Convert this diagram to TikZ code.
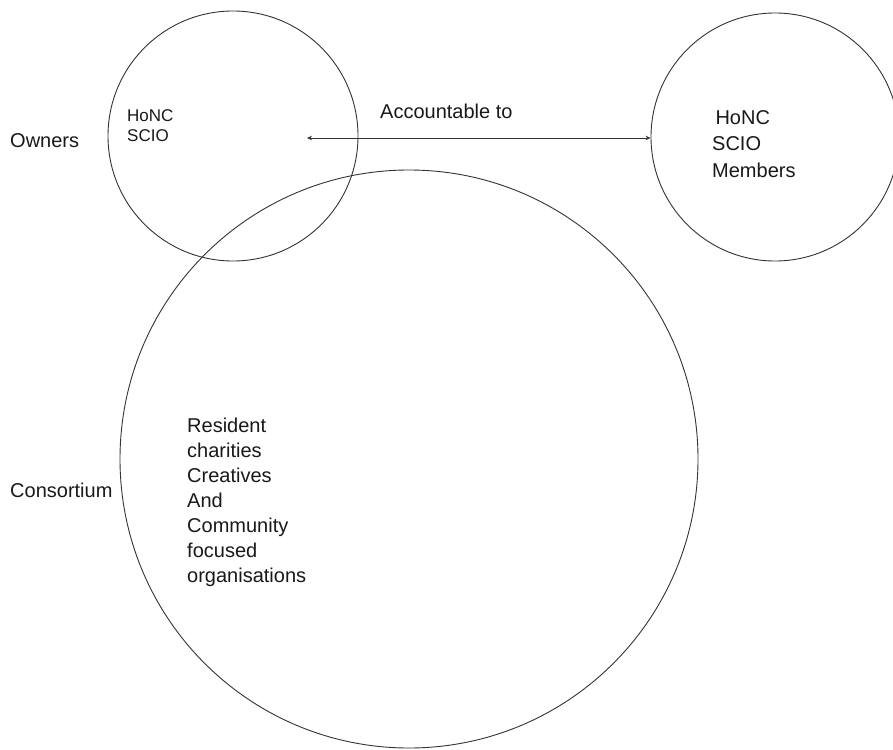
\documentclass[tikz,border=0pt]{standalone}
\usepackage{fontspec}
\setmainfont{Liberation Sans}
\usetikzlibrary{arrows.meta}
\begin{document}
\begin{tikzpicture}[x=1pt,y=-1pt,
  ring/.style={circle, draw=black!80, line width=0.9pt, inner sep=0pt},
  lbl/.style={anchor=base west, inner sep=0pt, text=black!90, align=left},
  big/.style={font=\fontsize{20}{25}\selectfont},
  small/.style={font=\fontsize{17}{20}\selectfont},
  conn/.style={draw=black!80, line width=0.9pt, {Stealth[length=5pt,width=4.5pt]}-{Stealth[length=5pt,width=4.5pt]}}
]
\fill[white] (0,0) rectangle (893,749);
\useasboundingbox (0,0) rectangle (893,749);
% circles
\node[ring, minimum size=250pt] (owners) at (233,136) {};
\node[ring, minimum size=248pt] (members) at (775,137) {};
\node[ring, minimum size=578pt] (consortium) at (409,459) {};
% texts (base anchor of a multi-line node = baseline of its last line)
\node[lbl, big] (towners) at (10,147) {Owners};
\node[lbl, small] (tscio) at (127,141) {HoNC\\SCIO};
\node[lbl, big] (tacc) at (380,118) {Accountable to};
\node[lbl, font=\fontsize{20}{26.5}\selectfont] (tmem) at (712,177) {\,HoNC\\SCIO\\Members};
\node[lbl, big] (tcons) at (10,497) {Consortium};
\node[lbl, big] (tres) at (187,582) {Resident\\charities\\Creatives\\And\\Community\\focused\\organisations};
% connector
\coordinate (arrL) at (307,138);
\draw[conn] (arrL) -- (arrL -| members.west);
\end{tikzpicture}
\end{document}
